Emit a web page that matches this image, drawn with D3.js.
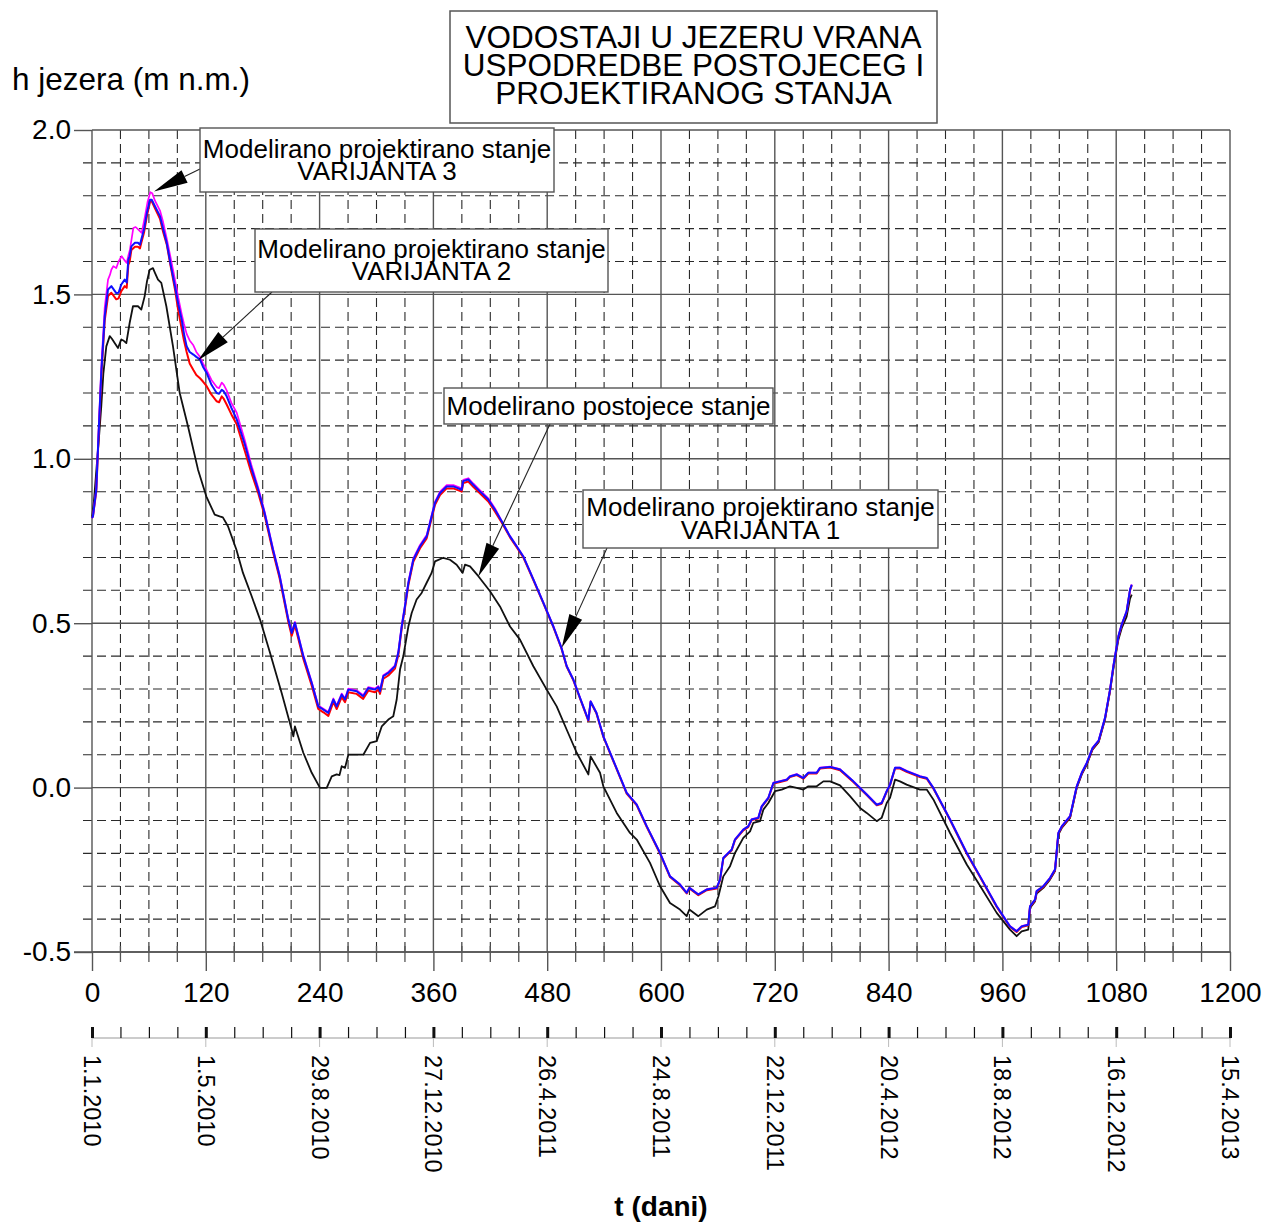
<!DOCTYPE html>
<html>
<head>
<meta charset="utf-8">
<script src="https://cdn.jsdelivr.net/npm/d3@7"></script>
<style>
  html, body { margin: 0; padding: 0; background: #fff; }
  svg { display: block; }
  text { font-family: "Liberation Sans", Arial, Helvetica, sans-serif; fill: #000; }
</style>
</head>
<body>
<svg id="chart" width="1266" height="1223"></svg>
<script>
// ---- data: lake level h (m n.m.) against day t ----
const postojece = [[0,0.82],[2,0.87],[5,0.98],[7.5,1.07],[9.8,1.16],[12,1.26],[15.1,1.342],[18.7,1.373],[21,1.365],[23.9,1.352],[27.4,1.337],[30.9,1.363],[33,1.36],[36.2,1.352],[39.7,1.413],[43.2,1.464],[48.5,1.464],[52,1.454],[55.5,1.494],[58,1.54],[60.8,1.575],[64.3,1.58],[66.5,1.565],[69.6,1.545],[73.1,1.535],[78.4,1.464],[85.4,1.342],[92.5,1.2],[101.2,1.099],[111.8,0.967],[120.5,0.886],[129.4,0.83],[134.6,0.825],[138,0.822],[143.4,0.795],[152.2,0.724],[159.2,0.653],[168,0.585],[177.2,0.511],[187.7,0.41],[200,0.288],[210.6,0.176],[212.3,0.156],[214,0.186],[222.8,0.106],[231.7,0.045],[240.4,-0.001],[247.5,-0.001],[252.8,0.034],[258,0.04],[261,0.038],[263.3,0.065],[266.8,0.06],[270.3,0.1],[279.1,0.1],[286.1,0.1],[293.2,0.136],[300.2,0.141],[305.5,0.186],[312.5,0.207],[317.7,0.217],[321.3,0.268],[324.8,0.359],[328.3,0.40],[333.6,0.49],[337.1,0.531],[342.3,0.572],[347.6,0.592],[352.9,0.623],[358.1,0.653],[361.7,0.688],[370.4,0.699],[377.5,0.693],[384.5,0.678],[390.8,0.653],[393.3,0.678],[398.6,0.673],[407.4,0.643],[419.7,0.597],[430.2,0.551],[440.8,0.49],[451.3,0.45],[465.4,0.369],[479.5,0.298],[490,0.247],[500.6,0.176],[511.1,0.106],[523.4,0.04],[525.8,0.095],[535.7,0.045],[539.2,0.004],[553.3,-0.077],[567.3,-0.138],[574.4,-0.158],[588.4,-0.229],[599,-0.3],[609.5,-0.351],[620,-0.371],[627.1,-0.391],[629.9,-0.371],[639.4,-0.391],[648.2,-0.371],[657,-0.361],[660.5,-0.331],[665.7,-0.27],[672.8,-0.239],[678,-0.199],[686.8,-0.153],[693.9,-0.133],[697.4,-0.107],[704.4,-0.102],[707.9,-0.067],[713.2,-0.047],[720.2,-0.011],[727.3,-0.006],[736,0.004],[743.1,-0.001],[750.1,-0.006],[755.4,0.004],[764.2,0.004],[771.2,0.019],[778.3,0.019],[788.8,0.007],[799.3,-0.026],[809.9,-0.062],[816.9,-0.077],[827.5,-0.102],[832.7,-0.092],[838,-0.047],[841.5,-0.031],[846.8,0.024],[852,0.019],[859,0.009],[873.1,-0.006],[880.2,-0.006],[887.2,-0.036],[904.8,-0.138],[922.4,-0.234],[934.6,-0.29],[954,-0.381],[968,-0.432],[975,-0.452],[980.3,-0.437],[987.3,-0.432],[989.1,-0.366],[994.4,-0.346],[996.1,-0.322],[1003.2,-0.305],[1010.2,-0.28],[1015.5,-0.254],[1019,-0.143],[1022.6,-0.123],[1031.4,-0.092],[1038.4,-0.001],[1043.7,0.04],[1049,0.07],[1055,0.115],[1061.5,0.138],[1068.2,0.207],[1073.5,0.293],[1077,0.36],[1082.3,0.45],[1085.8,0.485],[1091,0.52],[1094.6,0.575],[1096.4,0.587]];

const varijanta1 = [[0,0.82],[1,0.825],[4.5,0.906],[7,1.08],[9.8,1.262],[13.4,1.433],[16.9,1.515],[20.4,1.525],[25.6,1.504],[28,1.505],[30.9,1.53],[34.5,1.545],[36.6,1.536],[38.3,1.606],[39.7,1.616],[41.5,1.646],[45.3,1.657],[48.5,1.657],[50.6,1.651],[52,1.667],[55,1.70],[58,1.75],[61.2,1.788],[63,1.788],[66.4,1.768],[71.7,1.738],[75,1.70],[78.8,1.657],[83,1.59],[87.5,1.525],[91,1.47],[94.6,1.423],[97,1.38],[99.8,1.342],[103,1.325],[106.9,1.317],[110,1.31],[113.9,1.302],[117,1.28],[120.9,1.261],[126,1.225],[131.5,1.2],[134,1.198],[136.8,1.21],[139,1.205],[142,1.19],[147,1.155],[152.6,1.12],[161,1.045],[168,0.972],[175,0.908],[182,0.835],[190.8,0.724],[197.9,0.643],[207,0.511],[210.6,0.470],[214,0.501],[222.8,0.40],[231.7,0.318],[238.6,0.247],[244,0.237],[249.2,0.227],[254.5,0.268],[258,0.247],[263.3,0.283],[266.8,0.268],[270.3,0.298],[279,0.293],[286,0.278],[291.4,0.303],[298.4,0.298],[302,0.306],[303.7,0.293],[307.2,0.339],[312.5,0.349],[319.5,0.369],[323,0.41],[326.6,0.49],[330,0.551],[333.6,0.622],[338.8,0.693],[345.9,0.734],[352.9,0.764],[356.4,0.805],[361.7,0.866],[367,0.896],[374,0.916],[381,0.916],[389.8,0.906],[391.5,0.932],[396.8,0.937],[402,0.921],[409,0.901],[417.9,0.876],[425,0.845],[432,0.81],[440.8,0.764],[447.8,0.734],[454.8,0.703],[465.4,0.633],[476,0.562],[486.5,0.49],[495,0.425],[500.6,0.369],[507.6,0.328],[514.6,0.273],[523.4,0.205],[525.8,0.262],[532,0.227],[539.2,0.156],[551.5,0.07],[563.8,-0.016],[574.4,-0.052],[585,-0.118],[599,-0.199],[609.5,-0.27],[620,-0.295],[627.1,-0.32],[629.9,-0.305],[639.4,-0.325],[648.2,-0.31],[658.7,-0.305],[662.2,-0.28],[665.7,-0.214],[674.5,-0.189],[678,-0.158],[686.8,-0.128],[692,-0.118],[695.6,-0.097],[702.6,-0.092],[706.2,-0.057],[713.2,-0.031],[718.5,0.014],[725.5,0.019],[732.6,0.024],[736,0.034],[743.1,0.04],[750.1,0.029],[755.4,0.045],[764.2,0.045],[767.7,0.06],[778.3,0.063],[788.8,0.055],[802.8,0.019],[816.9,-0.021],[827.5,-0.052],[832.7,-0.047],[838,-0.011],[841.5,0.009],[846.8,0.06],[852,0.06],[859,0.05],[873.1,0.034],[880.2,0.029],[887.2,-0.001],[904.8,-0.097],[922.4,-0.199],[936.4,-0.27],[954,-0.361],[968,-0.422],[975,-0.437],[980.3,-0.422],[987.3,-0.417],[989.1,-0.361],[994.4,-0.341],[996.1,-0.315],[1003.2,-0.3],[1010.2,-0.275],[1015.5,-0.249],[1019,-0.138],[1022.6,-0.118],[1031.4,-0.087],[1038.4,0.004],[1043.7,0.045],[1049,0.075],[1055,0.12],[1061.5,0.143],[1068.2,0.212],[1073.5,0.298],[1077,0.369],[1082.3,0.46],[1085.8,0.496],[1091,0.536],[1094.6,0.602],[1096.4,0.617]];

const varijanta2 = [[0,0.82],[1,0.825],[4.5,0.9],[7,1.07],[9.8,1.25],[13.4,1.42],[16.9,1.495],[20.4,1.505],[25.6,1.485],[28,1.488],[30.9,1.51],[34.5,1.525],[36.6,1.52],[38.3,1.59],[39.7,1.60],[41.5,1.635],[45.3,1.645],[48.5,1.645],[50.6,1.64],[52,1.657],[55,1.69],[58,1.74],[61.2,1.782],[63,1.783],[66.4,1.762],[71.7,1.73],[75,1.69],[78.8,1.652],[83,1.585],[87.5,1.515],[91,1.45],[94.6,1.395],[97,1.36],[99.8,1.325],[103,1.29],[106.9,1.27],[110,1.255],[113.9,1.245],[117,1.235],[120.9,1.221],[126,1.195],[131.5,1.175],[134,1.172],[136.8,1.19],[139,1.182],[142,1.165],[147,1.135],[152.6,1.105],[161,1.025],[168,0.958],[175,0.898],[182,0.828],[190.8,0.717],[197.9,0.636],[207,0.504],[210.6,0.462],[214,0.494],[222.8,0.392],[231.7,0.31],[238.6,0.239],[244,0.229],[249.2,0.218],[254.5,0.26],[258,0.239],[263.3,0.275],[266.8,0.26],[270.3,0.29],[279,0.285],[286,0.27],[291.4,0.295],[298.4,0.29],[302,0.298],[303.7,0.285],[307.2,0.331],[312.5,0.341],[319.5,0.362],[323,0.403],[326.6,0.484],[330,0.545],[333.6,0.616],[338.8,0.687],[345.9,0.728],[352.9,0.758],[356.4,0.799],[361.7,0.86],[367,0.89],[374,0.91],[381,0.91],[389.8,0.9],[391.5,0.926],[396.8,0.931],[402,0.915],[409,0.895],[417.9,0.87],[425,0.839],[432,0.806],[440.8,0.761],[447.8,0.731],[454.8,0.7],[465.4,0.631],[476,0.56],[486.5,0.488],[495,0.423],[500.6,0.367],[507.6,0.326],[514.6,0.271],[523.4,0.203],[525.8,0.26],[532,0.225],[539.2,0.154],[551.5,0.068],[563.8,-0.018],[574.4,-0.054],[585,-0.12],[599,-0.201],[609.5,-0.272],[620,-0.297],[627.1,-0.322],[629.9,-0.307],[639.4,-0.327],[648.2,-0.312],[658.7,-0.307],[662.2,-0.282],[665.7,-0.216],[674.5,-0.191],[678,-0.16],[686.8,-0.13],[692,-0.12],[695.6,-0.099],[702.6,-0.094],[706.2,-0.059],[713.2,-0.033],[718.5,0.012],[725.5,0.017],[732.6,0.022],[736,0.032],[743.1,0.038],[750.1,0.027],[755.4,0.043],[764.2,0.043],[767.7,0.058],[778.3,0.061],[788.8,0.053],[802.8,0.017],[816.9,-0.023],[827.5,-0.054],[832.7,-0.049],[838,-0.013],[841.5,0.007],[846.8,0.058],[852,0.058],[859,0.048],[873.1,0.032],[880.2,0.027],[887.2,-0.003],[904.8,-0.099],[922.4,-0.201],[936.4,-0.272],[954,-0.363],[968,-0.424],[975,-0.439],[980.3,-0.424],[987.3,-0.419],[989.1,-0.363],[994.4,-0.343],[996.1,-0.317],[1003.2,-0.302],[1010.2,-0.277],[1015.5,-0.251],[1019,-0.14],[1022.6,-0.12],[1031.4,-0.089],[1038.4,0.002],[1043.7,0.043],[1049,0.073],[1055,0.118],[1061.5,0.141],[1068.2,0.21],[1073.5,0.296],[1077,0.367],[1082.3,0.458],[1085.8,0.494],[1091,0.534],[1094.6,0.6],[1096.4,0.615]];

const varijanta3 = [[0,0.82],[1,0.825],[4.5,0.91],[7,1.09],[9.8,1.28],[13.4,1.46],[16.9,1.545],[19,1.56],[20.4,1.575],[22.5,1.586],[25.6,1.58],[28,1.60],[31.3,1.616],[34,1.605],[36.6,1.596],[38.5,1.62],[40,1.636],[43.6,1.702],[46,1.705],[48.9,1.697],[52.4,1.687],[55.9,1.738],[58.5,1.78],[61.5,1.811],[63.5,1.808],[66.4,1.785],[71.7,1.755],[75,1.72],[78.8,1.67],[83,1.61],[87.5,1.545],[91,1.49],[94.6,1.44],[97,1.41],[99.8,1.38],[103,1.36],[106.9,1.345],[110,1.325],[113.9,1.31],[117,1.29],[120.9,1.27],[126,1.24],[131.5,1.218],[134,1.215],[136.8,1.232],[139,1.225],[142,1.208],[147,1.17],[152.6,1.14],[161,1.058],[168,0.982],[175,0.915],[182,0.84],[190.8,0.728],[197.9,0.647],[207,0.514],[210.6,0.473],[214,0.504],[222.8,0.403],[231.7,0.321],[238.6,0.25],[244,0.24],[249.2,0.23],[254.5,0.271],[258,0.25],[263.3,0.286],[266.8,0.271],[270.3,0.301],[279,0.296],[286,0.281],[291.4,0.306],[298.4,0.301],[302,0.309],[303.7,0.296],[307.2,0.342],[312.5,0.352],[319.5,0.372],[323,0.413],[326.6,0.494],[330,0.555],[333.6,0.626],[338.8,0.697],[345.9,0.738],[352.9,0.768],[356.4,0.809],[361.7,0.87],[367,0.9],[374,0.92],[381,0.92],[389.8,0.91],[391.5,0.936],[396.8,0.941],[402,0.925],[409,0.905],[417.9,0.88],[425,0.849],[432,0.811],[440.8,0.765],[447.8,0.735],[454.8,0.704],[465.4,0.634],[476,0.563],[486.5,0.491],[495,0.426],[500.6,0.37],[507.6,0.329],[514.6,0.274],[523.4,0.206],[525.8,0.263],[532,0.228],[539.2,0.157],[551.5,0.071],[563.8,-0.015],[574.4,-0.051],[585,-0.117],[599,-0.198],[609.5,-0.269],[620,-0.294],[627.1,-0.319],[629.9,-0.304],[639.4,-0.324],[648.2,-0.309],[658.7,-0.304],[662.2,-0.279],[665.7,-0.213],[674.5,-0.188],[678,-0.157],[686.8,-0.127],[692,-0.117],[695.6,-0.096],[702.6,-0.091],[706.2,-0.056],[713.2,-0.03],[718.5,0.015],[725.5,0.02],[732.6,0.025],[736,0.035],[743.1,0.041],[750.1,0.03],[755.4,0.046],[764.2,0.046],[767.7,0.061],[778.3,0.064],[788.8,0.056],[802.8,0.02],[816.9,-0.02],[827.5,-0.051],[832.7,-0.046],[838,-0.01],[841.5,0.01],[846.8,0.061],[852,0.061],[859,0.051],[873.1,0.035],[880.2,0.03],[887.2,0],[904.8,-0.096],[922.4,-0.198],[936.4,-0.269],[954,-0.36],[968,-0.421],[975,-0.436],[980.3,-0.421],[987.3,-0.416],[989.1,-0.36],[994.4,-0.34],[996.1,-0.314],[1003.2,-0.299],[1010.2,-0.274],[1015.5,-0.248],[1019,-0.137],[1022.6,-0.117],[1031.4,-0.086],[1038.4,0.005],[1043.7,0.046],[1049,0.076],[1055,0.121],[1061.5,0.144],[1068.2,0.213],[1073.5,0.299],[1077,0.37],[1082.3,0.461],[1085.8,0.497],[1091,0.537],[1094.6,0.603],[1096.4,0.618]];

// ---- axis ticks and labels ----
const dayTicks = [0,120,240,360,480,600,720,840,960,1080,1200];
const levelTicks = [-0.5,0.0,0.5,1.0,1.5,2.0];
const dateLabels = ["1.1.2010","1.5.2010","29.8.2010","27.12.2010","26.4.2011","24.8.2011","22.12.2011","20.4.2012","18.8.2012","16.12.2012","15.4.2013"];
const titleLines = ["VODOSTAJI U JEZERU VRANA","USPODREDBE POSTOJECEG I","PROJEKTIRANOG STANJA"];

// ---- annotations: text lines and the point each arrow points at ----
const notes = [
  {lines:["Modelirano projektirano stanje","VARIJANTA 3"], tip:[65.4,1.813]},
  {lines:["Modelirano projektirano stanje","VARIJANTA 2"], tip:[111.8,1.300]},
  {lines:["Modelirano postojece stanje"], tip:[407.4,0.642]},
  {lines:["Modelirano projektirano stanje","VARIJANTA 1"], tip:[495.3,0.425]}
];

// ---- layout ----
const svg = d3.select("#chart");
const L = 92, R = 1230, T = 130, B = 952;
const x = d3.scaleLinear().domain([0,1200]).range([L,R]);
const y = d3.scaleLinear().domain([-0.5,2.0]).range([B,T]);
const fmt = d3.formatLocale({decimal:".", thousands:",", grouping:[3], currency:["",""], minus:"-"}).format(".1f");

const noteBoxes = [
  {x:200, y:128, w:354, h:64, base:[30,52], tail:[200,169]},
  {x:255, y:229, w:353, h:63, base:[29,51], tail:[272,292]},
  {x:444, y:388, w:329, h:36, base:[26.5], tail:[550,424]},
  {x:583, y:490, w:355, h:58, base:[25.5,48.5], tail:[607,548]}
];

// grid
const grid = svg.append("g");
const minorDays = d3.range(0, 1201, 30).filter(d => d % 120 !== 0);
const minorLevels = d3.range(-5, 21).map(k => k/10).filter(v => Math.abs(v*2 - Math.round(v*2)) > 1e-6);

grid.selectAll("line.hmin").data(minorLevels).join("line")
  .attr("x1", L - 9).attr("x2", R)
  .attr("y1", d => y(d)).attr("y2", d => y(d))
  .attr("stroke", "#2a2a2a").attr("stroke-width", 1.1).attr("stroke-dasharray", "9,5");
grid.selectAll("line.vmin").data(minorDays).join("line")
  .attr("x1", d => x(d)).attr("x2", d => x(d))
  .attr("y1", T).attr("y2", B)
  .attr("stroke", "#2a2a2a").attr("stroke-width", 1.1).attr("stroke-dasharray", "9,5");
grid.selectAll("line.hmaj").data(levelTicks).join("line")
  .attr("x1", L).attr("x2", R)
  .attr("y1", d => y(d)).attr("y2", d => y(d))
  .attr("stroke", "#555").attr("stroke-width", 1.4);
grid.selectAll("line.vmaj").data(dayTicks).join("line")
  .attr("x1", d => x(d)).attr("x2", d => x(d))
  .attr("y1", T).attr("y2", B)
  .attr("stroke", "#555").attr("stroke-width", 1.4);

// left axis
const yAxis = svg.append("g").attr("transform", `translate(${L},0)`)
  .call(d3.axisLeft(y).tickValues(levelTicks).tickSize(18).tickPadding(3).tickFormat(fmt));
yAxis.select(".domain").remove();
yAxis.selectAll(".tick line").attr("stroke", "#555").attr("stroke-width", 1.4);
yAxis.selectAll(".tick text").attr("font-size", 28).attr("font-family", "Liberation Sans, Arial, sans-serif").attr("fill", "#000");

// bottom axis (days)
const xAxis = svg.append("g").attr("transform", `translate(0,${B})`)
  .call(d3.axisBottom(x).tickValues(dayTicks).tickSize(19).tickPadding(11).tickFormat(d3.format("d")));
xAxis.select(".domain").remove();
xAxis.selectAll(".tick line").attr("stroke", "#555").attr("stroke-width", 1.4);
xAxis.selectAll(".tick text").attr("font-size", 28).attr("font-family", "Liberation Sans, Arial, sans-serif").attr("fill", "#000");
svg.append("line").attr("x1", L - 18).attr("x2", R + 1).attr("y1", B).attr("y2", B)
  .attr("stroke", "#555").attr("stroke-width", 1.4);
svg.append("g").selectAll("line").data(minorDays).join("line")
  .attr("x1", d => x(d)).attr("x2", d => x(d))
  .attr("y1", B - 6).attr("y2", B + 10)
  .attr("stroke", "#555").attr("stroke-width", 1.3);

// date axis
const DY = 1038;
svg.append("line").attr("x1", L).attr("x2", R + 1).attr("y1", DY).attr("y2", DY)
  .attr("stroke", "#999").attr("stroke-width", 1.2);
const dateAxis = svg.append("g").attr("transform", `translate(0,${DY})`)
  .call(d3.axisTop(x).tickValues(d3.range(0, 1201, 30)).tickSize(11).tickFormat(""));
dateAxis.select(".domain").remove();
dateAxis.selectAll(".tick line")
  .attr("stroke", "#111")
  .attr("stroke-width", d => d % 120 === 0 ? 3 : 1.2);
svg.append("g").selectAll("line").data(dayTicks).join("line")
  .attr("x1", d => x(d)).attr("x2", d => x(d))
  .attr("y1", DY).attr("y2", DY + 9)
  .attr("stroke", "#bbb").attr("stroke-width", 1);
svg.append("g").selectAll("text").data(dayTicks).join("text")
  .attr("transform", d => `translate(${x(d)},1055) rotate(90)`)
  .attr("dominant-baseline", "central")
  .attr("font-size", 23.5)
  .text((d, i) => dateLabels[i]);

svg.append("text").attr("x", (L + R) / 2).attr("y", 1216)
  .attr("text-anchor", "middle").attr("font-size", 28).attr("font-weight", "bold")
  .text("t (dani)");

svg.append("text").attr("x", 12).attr("y", 90).attr("font-size", 31.5)
  .text("h jezera (m n.m.)");

// series
const line = d3.line().x(d => x(d[0])).y(d => y(d[1]));
const series = [
  {data: postojece, color: "#111", width: 1.8},
  {data: varijanta2, color: "#ff0000", width: 2},
  {data: varijanta3, color: "#ff00ff", width: 1.7},
  {data: varijanta1, color: "#1010ff", width: 2}
];
svg.append("g").selectAll("path").data(series).join("path")
  .attr("d", s => line(s.data))
  .attr("fill", "none")
  .attr("stroke", s => s.color)
  .attr("stroke-width", s => s.width)
  .attr("stroke-linejoin", "round");

// title
const tb = svg.append("g");
tb.append("rect").attr("x", 450).attr("y", 11).attr("width", 487).attr("height", 112)
  .attr("fill", "#fff").attr("stroke", "#555").attr("stroke-width", 1.5);
tb.selectAll("text").data(titleLines).join("text")
  .attr("x", 693.5).attr("y", (d, i) => 47.5 + i * 28)
  .attr("text-anchor", "middle").attr("font-size", 31.5)
  .text(d => d);

// annotations with arrows
const ann = svg.append("g");
notes.forEach((n, i) => {
  const b = noteBoxes[i];
  const tx = x(n.tip[0]), ty = y(n.tip[1]);
  const [sx, sy] = b.tail;
  const dx = sx - tx, dy = sy - ty, len = Math.hypot(dx, dy);
  const ux = dx / len, uy = dy / len;
  const hl = 34, hw = 7;
  const bx = tx + ux * hl, by = ty + uy * hl;
  ann.append("line").attr("x1", sx).attr("y1", sy).attr("x2", bx).attr("y2", by)
    .attr("stroke", "#222").attr("stroke-width", 1.1);
  ann.append("path")
    .attr("d", `M${tx},${ty}L${bx - uy * hw},${by + ux * hw}L${bx + uy * hw},${by - ux * hw}Z`)
    .attr("fill", "#000");
  ann.append("rect").attr("x", b.x).attr("y", b.y).attr("width", b.w).attr("height", b.h)
    .attr("fill", "#fff").attr("stroke", "#555").attr("stroke-width", 1.4);
  n.lines.forEach((t, j) => {
    ann.append("text").attr("x", b.x + b.w / 2).attr("y", b.y + b.base[j])
      .attr("text-anchor", "middle").attr("font-size", 26).text(t);
  });
});
</script>
</body>
</html>
